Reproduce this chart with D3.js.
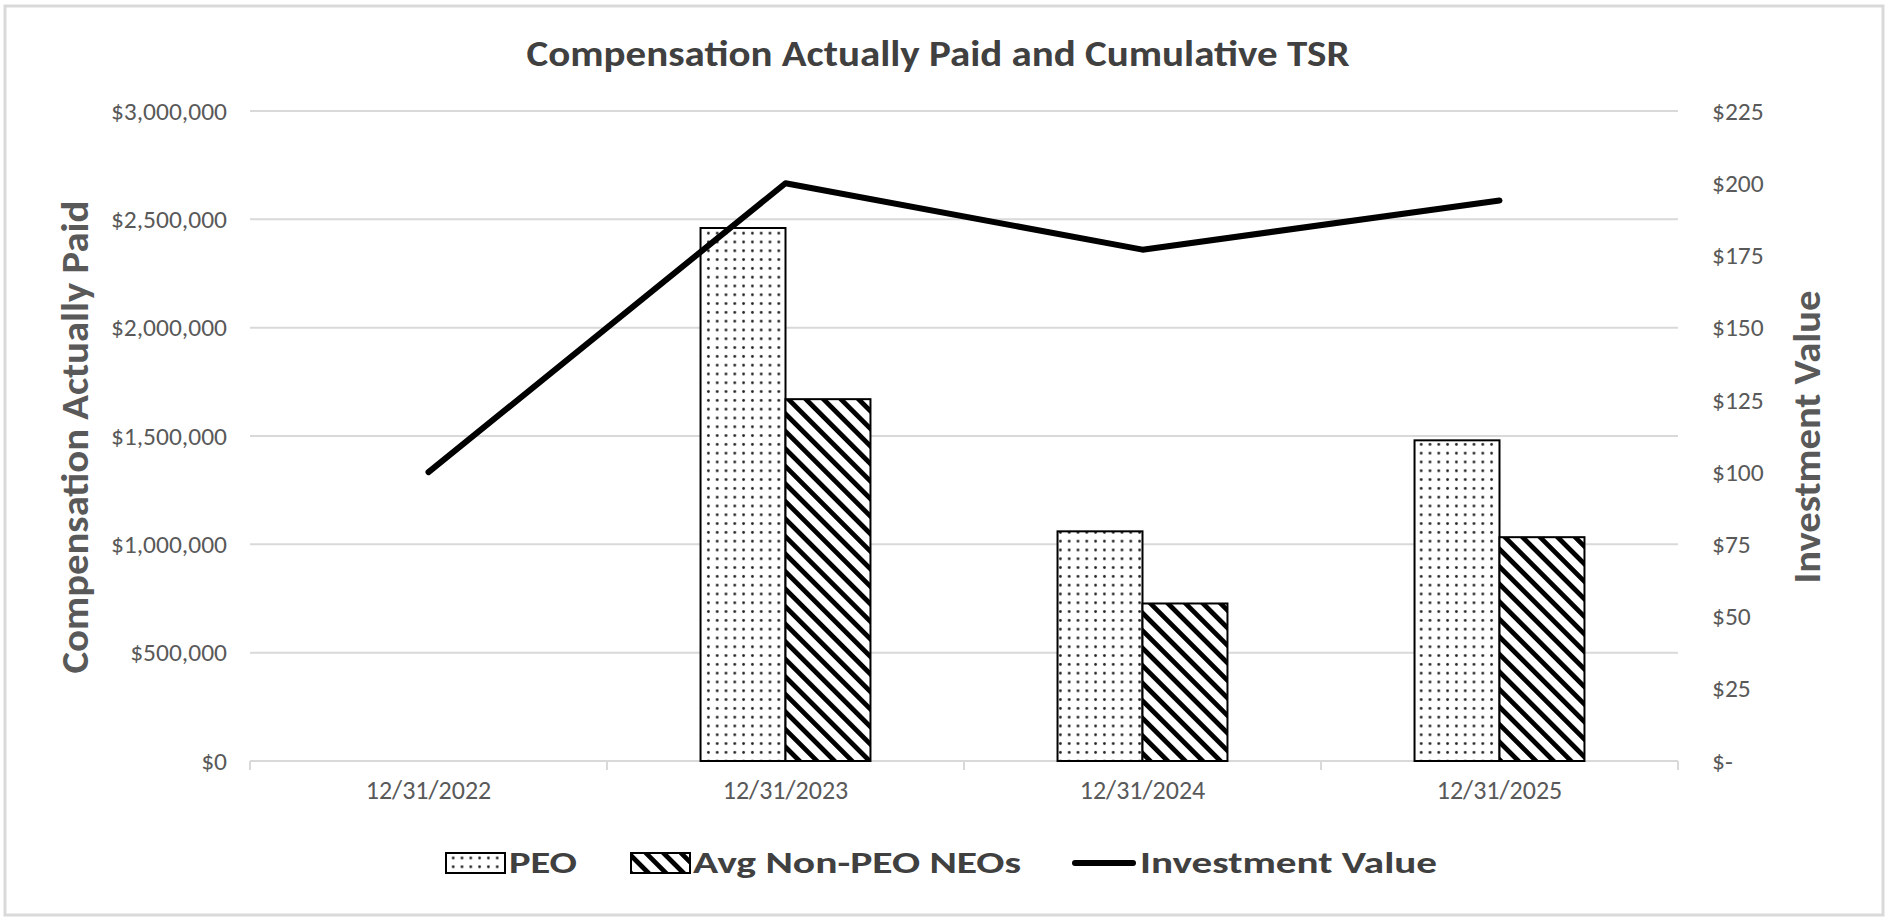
<!DOCTYPE html>
<html>
<head>
<meta charset="utf-8">
<script src="https://cdn.jsdelivr.net/npm/d3@7/dist/d3.min.js"></script>
<style>
  html, body { margin: 0; padding: 0; background: #fff; }
  svg { display: block; }
  text { font-family: Carlito, Calibri, "Open Sans", sans-serif; }
</style>
</head>
<body>
<script>
// chart data
var years = ["12/31/2022", "12/31/2023", "12/31/2024", "12/31/2025"];
var seriesNames = ["PEO", "Avg Non-PEO NEOs"];
var peoPaid = [null, 2460000, 1060000, 1480000];
var neoPaid = [null, 1670000, 727000, 1033000];
var investValue = [100, 200, 177, 194];
var leftTicks = [0, 500000, 1000000, 1500000, 2000000, 2500000, 3000000];
var rightTicks = [0, 25, 50, 75, 100, 125, 150, 175, 200, 225];

var width = 1892, height = 923;
var plotLeft = 250, plotRight = 1678, plotTop = 111, plotBottom = 761;

var svg = d3.select("body").append("svg")
  .attr("width", width)
  .attr("height", height);

var defs = svg.append("defs");

// dotted fill for PEO
var dots = defs.append("pattern")
  .attr("id", "dots")
  .attr("patternUnits", "userSpaceOnUse")
  .attr("width", 8.8)
  .attr("height", 8.8);
dots.append("rect").attr("width", 8.8).attr("height", 8.8).attr("fill", "#fff");
dots.append("circle").attr("cx", 4.4).attr("cy", 4.4).attr("r", 1.4).attr("fill", "#222");

// diagonal stripes for non-PEO
var stripes = defs.append("pattern")
  .attr("id", "stripes")
  .attr("patternUnits", "userSpaceOnUse")
  .attr("width", 12.4)
  .attr("height", 12.4)
  .attr("patternTransform", "rotate(-45)");
stripes.append("rect").attr("width", 12.4).attr("height", 12.4).attr("fill", "#fff");
stripes.append("rect").attr("width", 4.8).attr("height", 12.4).attr("fill", "#000");

// outer frame
svg.append("rect")
  .attr("x", 5).attr("y", 6)
  .attr("width", 1878).attr("height", 909)
  .attr("fill", "#fff")
  .attr("stroke", "#d9d9d9")
  .attr("stroke-width", 3);

var x0 = d3.scaleBand().domain(years).range([plotLeft, plotRight]).paddingInner(0.524).paddingOuter(0.262);
var x1 = d3.scaleBand().domain(seriesNames).range([0, x0.bandwidth()]);
var xPoint = function (d) { return x0(d) + x0.bandwidth() / 2; };
var yLeft = d3.scaleLinear().domain([0, 3000000]).range([plotBottom, plotTop]);
var yRight = d3.scaleLinear().domain([0, 225]).range([plotBottom, plotTop]);

// gridlines
svg.append("g").selectAll("line").data(leftTicks.slice(1)).enter().append("line")
  .attr("x1", plotLeft).attr("x2", plotRight)
  .attr("y1", function (d) { return yLeft(d); })
  .attr("y2", function (d) { return yLeft(d); })
  .attr("stroke", "#d9d9d9")
  .attr("stroke-width", 2);

// left axis
var leftAxis = svg.append("g")
  .attr("transform", "translate(" + (plotLeft - 23) + ",0)")
  .call(d3.axisLeft(yLeft).tickValues(leftTicks).tickSize(0).tickPadding(0)
    .tickFormat(function (d) { return "$" + d3.format(",")(d); }));
leftAxis.select(".domain").remove();
leftAxis.selectAll("text").attr("font-size", 25.5).attr("fill", "#595959")
  .style("font-family", "Carlito, Calibri, 'Open Sans', sans-serif");

// right axis
var rightAxis = svg.append("g")
  .attr("transform", "translate(" + (plotRight + 34) + ",0)")
  .call(d3.axisRight(yRight).tickValues(rightTicks).tickSize(0).tickPadding(0)
    .tickFormat(function (d) { return d === 0 ? "$-" : "$" + d; }));
rightAxis.select(".domain").remove();
rightAxis.selectAll("text").attr("font-size", 25.5).attr("fill", "#595959")
  .style("font-family", "Carlito, Calibri, 'Open Sans', sans-serif");

// bottom axis line and category separators
svg.append("line")
  .attr("x1", plotLeft).attr("x2", plotRight)
  .attr("y1", plotBottom).attr("y2", plotBottom)
  .attr("stroke", "#d9d9d9").attr("stroke-width", 2);
var edges = years.map(function (d) { return x0(d) - x0.step() * x0.paddingInner() / 2; });
edges.push(plotRight);
svg.append("g").selectAll("line").data(edges).enter().append("line")
  .attr("x1", function (d) { return d; }).attr("x2", function (d) { return d; })
  .attr("y1", plotBottom).attr("y2", plotBottom + 9)
  .attr("stroke", "#d9d9d9").attr("stroke-width", 2);

var bottomAxis = svg.append("g")
  .attr("transform", "translate(0," + plotBottom + ")")
  .call(d3.axisBottom(x0).tickSize(0).tickPadding(20));
bottomAxis.select(".domain").remove();
bottomAxis.selectAll("text").attr("font-size", 26).attr("fill", "#595959")
  .style("font-family", "Carlito, Calibri, 'Open Sans', sans-serif");

// bars
var barData = [];
years.forEach(function (y, i) {
  if (peoPaid[i] != null) barData.push({ year: y, s: seriesNames[0], v: peoPaid[i], fill: "url(#dots)" });
  if (neoPaid[i] != null) barData.push({ year: y, s: seriesNames[1], v: neoPaid[i], fill: "url(#stripes)" });
});

svg.append("g").selectAll("rect").data(barData).enter().append("rect")
  .attr("x", function (d) { return x0(d.year) + x1(d.s); })
  .attr("y", function (d) { return yLeft(d.v); })
  .attr("width", x1.bandwidth())
  .attr("height", function (d) { return plotBottom - yLeft(d.v); })
  .attr("fill", function (d) { return d.fill; })
  .attr("stroke", "#000")
  .attr("stroke-width", 2);

// investment value line
var line = d3.line()
  .x(function (d, i) { return xPoint(years[i]); })
  .y(function (d) { return yRight(d); });
svg.append("path")
  .datum(investValue)
  .attr("d", line)
  .attr("fill", "none")
  .attr("stroke", "#000")
  .attr("stroke-width", 6)
  .attr("stroke-linejoin", "round")
  .attr("stroke-linecap", "round");

// titles
svg.append("text")
  .attr("x", 938).attr("y", 66)
  .attr("text-anchor", "middle")
  .attr("font-size", 36).attr("font-weight", "bold").attr("fill", "#404040")
  .attr("textLength", 823).attr("lengthAdjust", "spacingAndGlyphs")
  .text("Compensation Actually Paid and Cumulative TSR");

svg.append("text")
  .attr("transform", "translate(88,437) rotate(-90)")
  .attr("text-anchor", "middle")
  .attr("font-size", 38).attr("font-weight", "bold").attr("fill", "#595959")
  .attr("textLength", 473).attr("lengthAdjust", "spacingAndGlyphs")
  .text("Compensation Actually Paid");

svg.append("text")
  .attr("transform", "translate(1820,437) rotate(-90)")
  .attr("text-anchor", "middle")
  .attr("font-size", 38).attr("font-weight", "bold").attr("fill", "#595959")
  .attr("textLength", 293).attr("lengthAdjust", "spacingAndGlyphs")
  .text("Investment Value");

// legend
var legend = svg.append("g");
legend.append("rect").attr("x", 446).attr("y", 853).attr("width", 59).attr("height", 20)
  .attr("fill", "url(#dots)").attr("stroke", "#000").attr("stroke-width", 2);
legend.append("text").attr("x", 509).attr("y", 873)
  .attr("font-size", 31).attr("font-weight", "bold").attr("fill", "#404040")
  .attr("textLength", 68).attr("lengthAdjust", "spacingAndGlyphs")
  .text(seriesNames[0]);

legend.append("rect").attr("x", 631).attr("y", 853).attr("width", 59).attr("height", 20)
  .attr("fill", "url(#stripes)").attr("stroke", "#000").attr("stroke-width", 2);
legend.append("text").attr("x", 693).attr("y", 873)
  .attr("font-size", 31).attr("font-weight", "bold").attr("fill", "#404040")
  .attr("textLength", 328).attr("lengthAdjust", "spacingAndGlyphs")
  .text(seriesNames[1]);

legend.append("line").attr("x1", 1075).attr("x2", 1133).attr("y1", 863).attr("y2", 863)
  .attr("stroke", "#000").attr("stroke-width", 6).attr("stroke-linecap", "round");
legend.append("text").attr("x", 1140).attr("y", 873)
  .attr("font-size", 31).attr("font-weight", "bold").attr("fill", "#404040")
  .attr("textLength", 297).attr("lengthAdjust", "spacingAndGlyphs")
  .text("Investment Value");
</script>
</body>
</html>
